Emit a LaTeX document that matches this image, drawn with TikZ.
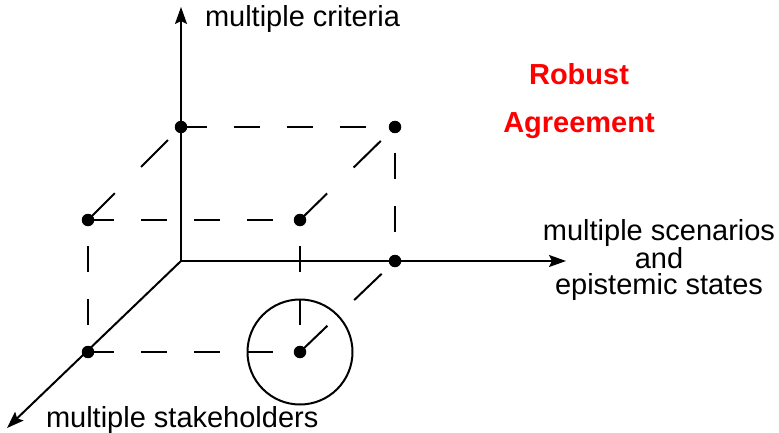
\documentclass[tikz,border=0pt]{standalone}
\usepackage{fontspec}
\setmainfont{Liberation Sans}
\usetikzlibrary{arrows.meta}
\begin{document}
\begin{tikzpicture}[x=1pt,y=-1pt, line width=2pt,
  axis/.style={-{Stealth[length=17pt,width=12pt,inset=3pt]}},
  hdash/.style={dash pattern=on 26pt off 27pt},
  vdash/.style={dash pattern=on 26pt off 27pt, dash phase=27pt},
  ddash/.style={dash pattern=on 38pt off 37pt},
  pt/.style={circle,fill,inner sep=0pt,minimum size=12.5pt},
  lab/.style={font=\fontsize{29}{25.5}\selectfont, inner sep=0pt},
  redlab/.style={font=\fontsize{29}{29}\selectfont\bfseries, text=red, inner sep=0pt}]
\useasboundingbox (0,0) rectangle (779,433);
% axes
\coordinate (O) at (181,261);
\coordinate (Ztip) at (181,7);
\coordinate (Xtip) at (566,261);
\coordinate (Ytip) at (7,428);
% points
\node[pt] (c1) at (181,127) {};
\node[pt] (c2) at (395,127) {};
\node[pt] (f1) at (88,220) {};
\node[pt] (f2) at (300,220) {};
\node[pt] (b2) at (395,261) {};
\node[pt] (g1) at (88,352) {};
\node[pt] (g2) at (300,352) {};
\node[draw, circle, inner sep=0pt, minimum size=105pt] (ring) at (g2) {};
\draw[axis] (O) -- (Ztip);
\draw[axis] (O) -- (Xtip);
\draw[axis] (O) -- (Ytip);
% horizontal dashed edges
\draw[hdash] (c1.center) -- (c2.center);
\draw[hdash] (f1.center) -- (f2.center);
\draw[hdash] (g1.center) -- (g2.center);
% vertical dashed edges
\draw[vdash] (f1.center) -- (g1.center);
\draw[vdash] (f2.center) -- (g2.center);
\draw[vdash] (c2.center) -- (b2.center);
% depth dashed edges
\draw[ddash] (f1.center) -- (c1.center);
\draw[ddash] (f2.center) -- (c2.center);
\draw[ddash] (g2.center) -- (b2.center);
% labels
\node[lab, anchor=base west] (zl) at (204,27) {multiple criteria};
\node[lab, anchor=base west] (yl) at (45,427) {multiple stakeholders};
\node[lab, align=center] (xl) at (659,260) {multiple scenarios\\and\\epistemic states};
\node[redlab, anchor=base] (r1) at (579,85) {Robust};
\node[redlab, anchor=base] (r2) at (579,133) {Agreement};
\end{tikzpicture}
\end{document}
